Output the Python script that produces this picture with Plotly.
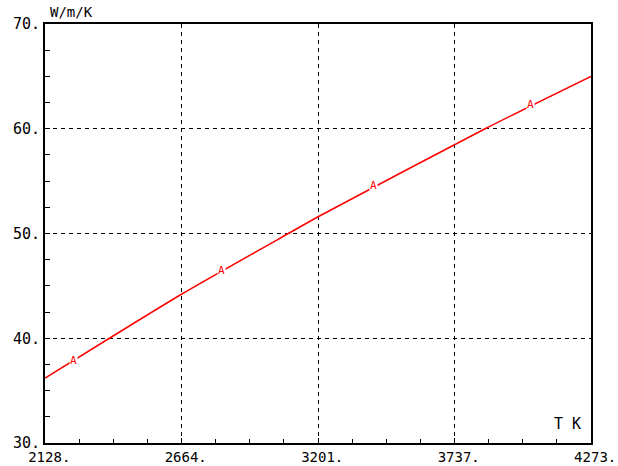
import plotly.graph_objects as go

# Thermal conductivity curve, temperature T (K) vs k (W/m/K)
temperature = [2128, 2381, 2664, 3084, 3201, 3857, 4273]
conductivity = [36.2, 40.0, 44.2, 50.0, 51.6, 60.0, 65.0]

# Curve identifier labels placed along the line
label_t = [2238, 2823, 3420, 4037]
label_k = [37.9, 46.5, 54.6, 62.3]
label_text = ["A", "A", "A", "A"]

x_ticks = [2128, 2664.25, 3200.5, 3736.75, 4273]
x_tick_text = ["2128.", "2664.", "3201.", "3737.", "4273."]
y_ticks = [30, 40, 50, 60, 70]
y_tick_text = ["30.", "40.", "50.", "60.", "70."]

FONT = "DejaVu Sans Mono"

fig = go.Figure()
fig.add_trace(go.Scatter(
    x=temperature, y=conductivity, mode="lines",
    line=dict(color="red", width=1.5, shape="spline", smoothing=0.6),
    hoverinfo="skip", showlegend=False,
))

for t, k, s in zip(label_t, label_k, label_text):
    fig.add_annotation(
        x=t, y=k, text=s, showarrow=False,
        font=dict(family=FONT, size=11, color="red"),
        bgcolor="white", borderpad=0,
    )

fig.add_annotation(
    x=0.005, y=1.0, xref="paper", yref="paper", xanchor="left", yanchor="bottom",
    text="W/m/K", showarrow=False, font=dict(family=FONT, size=14, color="black"),
    yshift=2,
)
fig.add_annotation(
    x=0.985, y=0.0, xref="paper", yref="paper", xanchor="right", yanchor="bottom",
    text="T\u00a0K", showarrow=False, font=dict(family=FONT, size=15, color="black"),
    yshift=8,
)

axis_common = dict(
    showline=True, linecolor="black", linewidth=2, mirror=True,
    showgrid=True, gridcolor="black", gridwidth=1, griddash="4px,4px",
    zeroline=False, ticks="inside", ticklen=5, tickcolor="black",
    automargin=False, ticklabeloverflow="allow",
)

fig.update_xaxes(
    range=[2127.9, 4273.1], tickmode="array", tickvals=x_ticks,
    ticktext=["\u00a0" + t for t in x_tick_text],
    tickfont=dict(family=FONT, size=14, color="black"),
    minor=dict(ticks="inside", ticklen=4, tickcolor="black",
               tick0=2128, dtick=536.25 / 4, showgrid=False),
    **axis_common,
)
fig.update_yaxes(
    range=[30, 70], tickmode="array", tickvals=y_ticks, ticktext=y_tick_text,
    tickfont=dict(family=FONT, size=15, color="black"),
    minor=dict(ticks="inside", ticklen=5, tickcolor="black",
               tick0=30, dtick=2.5, showgrid=False),
    **axis_common,
)

fig.update_layout(
    width=618, height=466,
    margin=dict(l=45, r=27, t=24, b=23),
    paper_bgcolor="white", plot_bgcolor="white",
    showlegend=False,
)

fig.write_html("out.html")
